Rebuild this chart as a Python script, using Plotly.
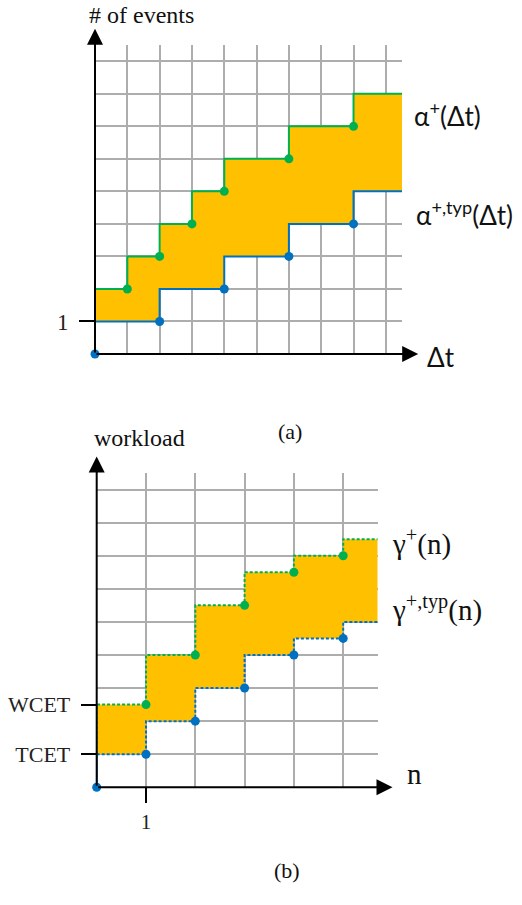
import plotly.graph_objects as go

# (a) arrival curves: dt where a step starts and the value from there on
alpha_dt = [0, 1, 2, 3, 4, 6, 8]
alpha_plus = [2, 3, 4, 5, 6, 7, 8]
alpha_start = 1
typ_dt = [0, 2, 4, 6, 8]
alpha_typ = [1, 2, 3, 4, 5]
typ_start = 0

# (b) workload curves over number of activations n
gamma_n = [0, 1, 2, 3, 4, 5]
gamma_plus = [2.5, 4, 5.5, 6.5, 7, 7.5]
gamma_start = 1
gamma_typ = [1, 2, 3, 4, 4.5, 5]
gamma_typ_start = 0

a_yticks = [1]
a_yticklabels = ['1']
b_yticks = [1, 2.5]
b_yticklabels = ['TCET', 'WCET']
b_xticks = [1]
b_xticklabels = ['1']

GREEN = '#00B050'
BLUE = '#0070C0'
FILL = '#FFC000'
GRID = '#ADADAD'
SERIF = 'Liberation Serif'
SANS = 'Lato'

W, H = 522, 905


def px_x(p):
    return p / W


def px_y(p):
    return 1 - p / H


A_END = 9.5
B_END = 5.7
A_XDOM = [px_x(95), px_x(402)]
A_YDOM = [px_y(354), px_y(45)]
B_XDOM = [px_x(96.7), px_x(96.7 + B_END * 49.3)]
B_YDOM = [px_y(787.3), px_y(473)]


def stairs(xs, ys, start, x_end):
    # corner points of a step curve that jumps at each xs
    px, py = [xs[0]], [start]
    for x, y in zip(xs, ys):
        px += [x, x]
        py += [py[-1], y]
    px.append(x_end)
    py.append(ys[-1])
    return px[1:], py[1:]


def to_paper(dom, rng, v):
    return dom[0] + (dom[1] - dom[0]) * v / rng


def add_panel(fig, xs_up, up, up_start, xs_lo, lo, lo_start, x_end, xa, ya, dash):
    ux, uy = stairs(xs_up, up, up_start, x_end)
    lx, ly = stairs(xs_lo, lo, lo_start, x_end)
    fig.add_trace(go.Scatter(x=ux + lx[::-1], y=uy + ly[::-1], fill='toself',
                             fillcolor=FILL, line=dict(width=0), mode='lines',
                             hoverinfo='skip', xaxis=xa, yaxis=ya))
    fig.add_trace(go.Scatter(x=ux, y=uy, mode='lines',
                             line=dict(color=GREEN, width=2, dash=dash),
                             cliponaxis=False, xaxis=xa, yaxis=ya))
    # first segment of the lower curve (from the origin) is solid
    fig.add_trace(go.Scatter(x=[xs_lo[0], xs_lo[0]], y=[lo_start, lo[0]], mode='lines',
                             line=dict(color=BLUE, width=2),
                             xaxis=xa, yaxis=ya))
    fig.add_trace(go.Scatter(x=lx[1:], y=ly[1:], mode='lines',
                             line=dict(color=BLUE, width=2, dash=dash),
                             cliponaxis=False, xaxis=xa, yaxis=ya))
    fig.add_trace(go.Scatter(x=xs_up[1:], y=up[:-1], mode='markers',
                             marker=dict(color=GREEN, size=9),
                             cliponaxis=False, xaxis=xa, yaxis=ya))
    fig.add_trace(go.Scatter(x=[xs_lo[0]] + xs_lo[1:], y=[lo_start] + lo[:-1], mode='markers',
                             marker=dict(color=BLUE, size=9),
                             cliponaxis=False, xaxis=xa, yaxis=ya))


fig = go.Figure()
add_panel(fig, alpha_dt, alpha_plus, alpha_start, typ_dt, alpha_typ, typ_start,
          A_END, 'x', 'y', 'solid')
add_panel(fig, gamma_n, gamma_plus, gamma_start, gamma_n, gamma_typ, gamma_typ_start,
          B_END, 'x2', 'y2', '3px,2px')

# invisible traces so the tick-label axes get drawn
fig.add_trace(go.Scatter(x=[None], y=[None], xaxis='x', yaxis='y3'))
fig.add_trace(go.Scatter(x=[None], y=[None], xaxis='x3', yaxis='y4'))

grid = dict(showgrid=True, gridcolor=GRID, gridwidth=1.5, dtick=1, tick0=0,
            showticklabels=False, zeroline=False, showline=False, ticks='',
            automargin=False)
tickax = dict(tickmode='array', showgrid=False, zeroline=False, showline=False,
              ticks='outside', ticklen=15, tickwidth=2, tickcolor='black',
              ticklabelstandoff=6, automargin=False,
              tickfont=dict(family=SERIF, size=23, color='#222'))

fig.update_layout(
    width=W, height=H, autosize=False,
    margin=dict(l=0, r=0, t=0, b=0, autoexpand=False),
    paper_bgcolor='white', plot_bgcolor='white',
    showlegend=False,
    xaxis=dict(domain=A_XDOM, range=[0, A_END], anchor='y', **grid),
    yaxis=dict(domain=A_YDOM, range=[0, A_END], anchor='x', **grid),
    yaxis3=dict(overlaying='y', anchor='x', range=[0, A_END],
                tickvals=a_yticks, ticktext=a_yticklabels, **tickax),
    xaxis2=dict(domain=B_XDOM, range=[0, B_END], anchor='y2', **grid),
    yaxis2=dict(domain=B_YDOM, range=[0, A_END], anchor='x2', **grid),
    xaxis3=dict(overlaying='x2', anchor='y2', range=[0, B_END],
                tickvals=b_xticks, ticktext=b_xticklabels,
                **{**tickax, 'ticklabelstandoff': 0,
                   'tickfont': dict(family=SERIF, size=21, color='#222')}),
    yaxis4=dict(overlaying='y2', anchor='x2', range=[0, A_END],
                tickvals=b_yticks, ticktext=b_yticklabels,
                **{**tickax, 'tickfont': dict(family=SERIF, size=22, color='#222')}),
)

# axis arrows
arrows = [('x', 'y', 0, 0, 10, 0), ('x', 'y', 0, 0, 0, 10),
          ('x2', 'y2', 0, 0, 6, 0), ('x2', 'y2', 0, 0, 0, 10)]
for xr, yr, x0, y0, x1, y1 in arrows:
    fig.add_annotation(x=x1, y=y1, ax=x0, ay=y0, xref=xr, yref=yr, axref=xr, ayref=yr,
                       text='', showarrow=True, arrowhead=2, arrowsize=1.6,
                       arrowwidth=2, arrowcolor='black')

# text labels, placed in data units of each panel and converted to paper
A = (A_XDOM, A_END, A_YDOM, A_END)
B = (B_XDOM, B_END, B_YDOM, A_END)
labels = [
    (A, 1.45, 10.87, '# of events', SERIF, 24, 'center'),
    (A, 9.8, 7.97, 'α<sup>+</sup>(Δt)', SANS, 26, 'left'),
    (A, 9.88, 4.92, 'α<sup>+,typ</sup>(Δt)', SANS, 26, 'left'),
    (A, 10.2, -0.09, 'Δt', SANS, 26, 'left'),
    (B, 0.86, 10.57, 'workload', SERIF, 24, 'center'),
    (B, 5.95, 7.39, 'γ<sup>+</sup>(n)', SERIF, 29, 'left'),
    (B, 5.95, 4.77, 'γ<sup>+,typ</sup>(n)', SERIF, 29, 'left'),
    (B, 6.25, -0.14, 'n', SERIF, 29, 'left'),
]
for (xd, xr, yd, yr), x, y, t, fam, sz, anc in labels:
    fig.add_annotation(x=to_paper(xd, xr, x), y=to_paper(yd, yr, y),
                       xref='paper', yref='paper', text=t, showarrow=False,
                       xanchor=anc, font=dict(family=fam, size=sz, color='#111'))

for t, px, py in [('(a)', 290, 432), ('(b)', 287, 885)]:
    fig.add_annotation(x=px_x(px), y=px_y(py), xref='paper', yref='paper', text=t,
                       showarrow=False, font=dict(family=SERIF, size=22, color='#111'))

# drop the browser's default 8px body margin so the figure fills the window
fig.write_html("out.html", config={'displayModeBar': False},
               post_script="document.body.style.margin='0';")
